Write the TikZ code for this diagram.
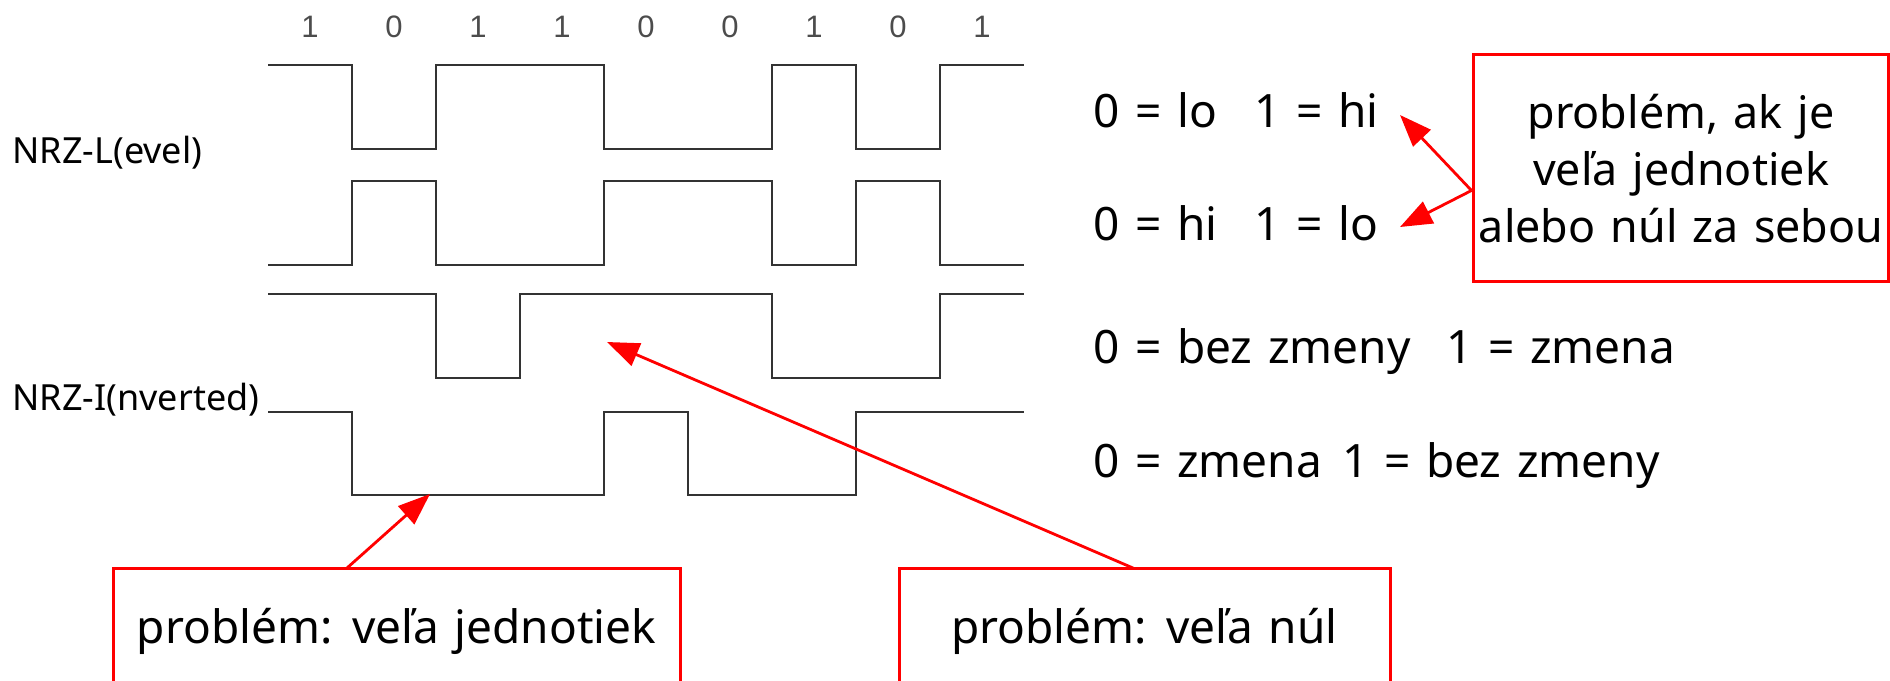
\documentclass[tikz,border=0pt]{standalone}
\usepackage{fontspec}
\setmainfont{Noto Sans}[WordSpace=1.3]
\newfontfamily\bitfont{Liberation Sans}
\usetikzlibrary{arrows.meta,calc}
\begin{document}
\begin{tikzpicture}[x=0.5pt,y=-0.5pt,
  wave/.style={line width=1pt, black!80, line join=miter},
  redbox/.style={draw=red, line width=1.5pt, inner sep=0pt},
  redarrow/.style={draw=red, line width=1.4pt, -{Triangle[length=16pt,width=12pt]}},
  bit/.style={font=\bitfont\fontsize{15.5pt}{17pt}\selectfont, text=black!70, inner sep=0pt},
  sig/.style={font=\fontsize{18pt}{21pt}\selectfont, anchor=base west, inner sep=0pt},
  big/.style={font=\fontsize{23pt}{28.5pt}\selectfont, inner sep=0pt},
  boxtext/.style={font=\fontsize{22.4pt}{28.5pt}\selectfont, inner sep=0pt, align=center},
]
\useasboundingbox (0,0) rectangle (1890,680);
\clip (0,0) rectangle (1890,680);

% bit labels
\foreach \b [count=\i from 0] in {1,0,1,1,0,0,1,0,1}
  \node[bit] (b\i) at (310+84*\i, 27) {\b};

% waveforms
\draw[wave] (268,65) -- (352,65) -- (352,149) -- (436,149) -- (436,65) -- (604,65) -- (604,149) -- (772,149) -- (772,65) -- (856,65) -- (856,149) -- (940,149) -- (940,65) -- (1024,65);
\draw[wave] (268,265) -- (352,265) -- (352,181) -- (436,181) -- (436,265) -- (604,265) -- (604,181) -- (772,181) -- (772,265) -- (856,265) -- (856,181) -- (940,181) -- (940,265) -- (1024,265);
\draw[wave] (268,294) -- (436,294) -- (436,378) -- (520,378) -- (520,294) -- (772,294) -- (772,378) -- (940,378) -- (940,294) -- (1024,294);
\draw[wave] (268,412) -- (352,412) -- (352,495) -- (604,495) -- (604,412) -- (688,412) -- (688,495) -- (856,495) -- (856,412) -- (1024,412);

% signal names
\node[sig] (nrzl) at (12,163) {NRZ-L(evel)};
\node[sig] (nrzi) at (12,410) {NRZ-I(nverted)};

% coding rules
\node[big, anchor=base west] (c1a) at (1093,127) {0 = lo};
\node[big, anchor=base west] (c1b) at (1254,127) {1 = hi};
\node[big, anchor=base west] (c2a) at (1093,240) {0 = hi};
\node[big, anchor=base west] (c2b) at (1254,240) {1 = lo};
\node[big, anchor=base west] (c3a) at (1093,363) {0 = bez zmeny};
\node[big, anchor=base west] (c3b) at (1446,363) {1 = zmena};
\node[big, anchor=base west] (c4a) at (1093,477) {0 = zmena};
\node[big, anchor=base west] (c4b) at (1342,477) {1 = bez zmeny};

% right box
\node[redbox, minimum width=207.5pt, minimum height=113.5pt] (rbox) at (1680.5,167.5) {};
\node[boxtext] (rboxtext) at (1681,169) {problém, ak je\\veľa jednotiek\\alebo núl za sebou};
\coordinate (rA) at ($(rbox.north west)!0.6!(rbox.south west)$);
\coordinate (hiT) at (1400,115);
\coordinate (loT) at (1400,227);
\draw[redarrow] (rA) -- (hiT);
\draw[redarrow] (rA) -- (loT);

% bottom boxes
\node[redbox, minimum width=283.5pt, minimum height=76pt] (lbox) at (396.5,644) {};
\node[big, anchor=base] (ltext) at (396.5,643) {problém: veľa jednotiek};
\node[redbox, minimum width=245.5pt, minimum height=76pt] (mbox) at (1144.5,644) {};
\node[big, anchor=base] (mtext) at (1144.5,643) {problém: veľa núl};

\coordinate (lA) at (347,568);
\coordinate (lT) at (430,494);
\draw[redarrow] (lA) -- (lT);
\coordinate (mA) at (1133,568);
\coordinate (mT) at (607,342);
\draw[redarrow] (mA) -- (mT);
\end{tikzpicture}
\end{document}
